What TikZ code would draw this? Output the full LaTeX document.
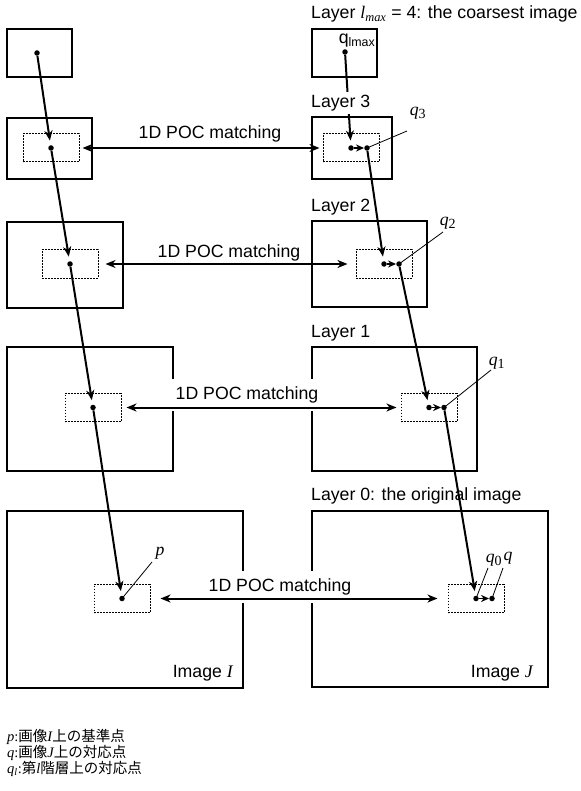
\documentclass[tikz,border=0pt]{standalone}
\usepackage{fontspec}
\setmainfont{Liberation Sans}
\newfontfamily\tms{Liberation Serif}
\newfontfamily\cjk{Noto Sans CJK JP}
\usetikzlibrary{arrows.meta,positioning}
\newcommand{\vr}[1]{{\tms\itshape #1}}

\begin{document}
\begin{tikzpicture}[x=1pt, y=-1pt,
    frame/.style={draw, line width=2pt},
    win/.style={draw, dash pattern=on 1.6pt off 1.4pt, line width=1pt, minimum width=56pt, minimum height=28pt, inner sep=0pt},
    dot/.style={circle, fill, inner sep=0pt, minimum size=5.5pt},
    conn/.style={-{Stealth[length=10pt, width=8pt, inset=3pt]}, line width=2pt, shorten >=4.5pt},
    match/.style={{Stealth[length=10pt, width=8pt, inset=3pt]}-{Stealth[length=10pt, width=8pt, inset=3pt]}, line width=2pt},
    moved/.style={-{Stealth[length=8pt, width=7pt, inset=2.5pt]}, line width=1.8pt},
    lead/.style={line width=0.8pt},
    txt/.style={font=\fontsize{17.7}{21}\selectfont, inner sep=0pt},
    layer/.style={txt, anchor=west},
    mlbl/.style={txt, fill=white, inner xsep=6pt, inner ysep=8pt}
]
\useasboundingbox (0,0) rectangle (580,791);

% image frames, layer 4 .. layer 0
\draw[frame] (7,29) rectangle (72,77);
\draw[frame] (312,29) rectangle (377,77);
\draw[frame] (7,118) rectangle (92,179);
\draw[frame] (312,117) rectangle (392,179);
\draw[frame] (7,222) rectangle (123,308);
\draw[frame] (312,221) rectangle (427,307);
\draw[frame] (7,347) rectangle (173,471);
\draw[frame] (312,347) rectangle (477,471);
\draw[frame] (7,511) rectangle (243,688);
\draw[frame] (312,511) rectangle (548,687);

% points in image I
\node[dot] (p4) at (37,53) {};
\node[dot] (p3) at (51,148) {};
\node[dot] (p2) at (70,264) {};
\node[dot] (p1) at (93,407.5) {};
\node[dot] (p0) at (122,598.5) {};

% estimated and matched points in image J
\node[dot] (q4) at (345,52) {};
\node[dot] (e3) at (351,148) {};
\node[dot] (q3) at (367,148) {};
\node[dot] (e2) at (384,264) {};
\node[dot] (q2) at (399,264) {};
\node[dot] (e1) at (429,407.5) {};
\node[dot] (q1) at (444,407.5) {};
\node[dot] (e0) at (476,598.5) {};
\node[dot] (q0) at (492,598.5) {};

% search windows
\foreach \n in {p3,p2,p1,p0,e3,e2,e1,e0}
  \node[win] (w\n) at (\n) {};

% coarse-to-fine propagation
\draw[conn] (p4) -- (p3);
\draw[conn] (p3) -- (p2);
\draw[conn] (p2) -- (p1);
\draw[conn] (p1) -- (p0);
\draw[conn] (q4) -- (e3);
\draw[conn] (q3) -- (e2);
\draw[conn] (q2) -- (e1);
\draw[conn] (q1) -- (e0);

\draw[moved] (e3) -- (q3);
\draw[moved] (e2) -- (q2);
\draw[moved] (e1) -- (q1);
\draw[moved] (e0) -- (q0);

% layer titles
\node[layer] (t4) at (311,14) {Layer \vr{l}\textsubscript{\vr{max}} = 4: the coarsest image};
\node[layer, fill=white, inner ysep=3pt] (t3) at (311,103) {Layer 3};
\node[layer] (t2) at (311,207) {Layer 2};
\node[layer] (t1) at (311,333) {Layer 1};
\node[layer] (t0) at (311,496) {Layer 0: the original image};

% 1D POC matching between the two images
\node[mlbl] (m3) at (210,134) {1D POC matching};
\node[mlbl] (m2) at (229,253) {1D POC matching};
\node[mlbl] (m1) at (247,395) {1D POC matching};
\node[mlbl] (m0) at (280,587) {1D POC matching};
\draw[match, shorten <=3pt, shorten >=3pt] (wp3) -- (we3);
\draw[match, shorten <=7pt, shorten >=8pt] (wp2) -- (we2);
\draw[match, shorten <=5pt, shorten >=4pt] (wp1) -- (we1);
\draw[match, shorten <=10pt, shorten >=10pt] (wp0) -- (we0);

% point labels
\node[txt] (lq4) at (357,41) {q\textsubscript{lmax}};
\node[txt] (lq3) at (418,113) {\vr{q}\textsubscript{\tms\fontsize{14}{14}\selectfont 3}};
\node[txt] (lq2) at (448,223) {\vr{q}\textsubscript{\tms\fontsize{14}{14}\selectfont 2}};
\node[txt] (lq1) at (497,363) {\vr{q}\textsubscript{\tms\fontsize{14}{14}\selectfont 1}};
\node[txt] (le0) at (494,560) {\vr{q}\textsubscript{\tms\fontsize{14}{14}\selectfont 0}};
\node[txt] (lq0) at (508,558) {\vr{q}};
\node[txt] (lp0) at (160,553) {\vr{p}};
\coordinate (c3) at (407,131);
\coordinate (c2) at (443,232);
\coordinate (c1) at (491,370);
\coordinate (c0) at (488,568);
\coordinate (cq) at (503,568);
\coordinate (cp) at (152,562);
\draw[lead] (q3.center) -- (c3);
\draw[lead] (q2.center) -- (c2);
\draw[lead] (q1.center) -- (c1);
\draw[lead] (e0.center) -- (c0);
\draw[lead] (q0.center) -- (cq);
\draw[lead] (p0.center) -- (cp);

\node[txt, anchor=east] (imI) at (233,673) {Image \vr{I}};
\node[txt, anchor=east] (imJ) at (533,673) {Image \vr{J}};

% legend
\node[anchor=north west, align=left, inner sep=0pt, font=\fontsize{14.5}{16}\selectfont] (key) at (7,729)
  {\vr{p}{\tms :}{\cjk 画像}\vr{I}{\cjk 上の基準点}\\
   \vr{q}{\tms :}{\cjk 画像}\vr{J}{\cjk 上の対応点}\\
   \vr{q}\textsubscript{\vr{l}}{\tms :}{\cjk 第}\vr{l}{\cjk 階層上の対応点}};
\end{tikzpicture}
\end{document}
